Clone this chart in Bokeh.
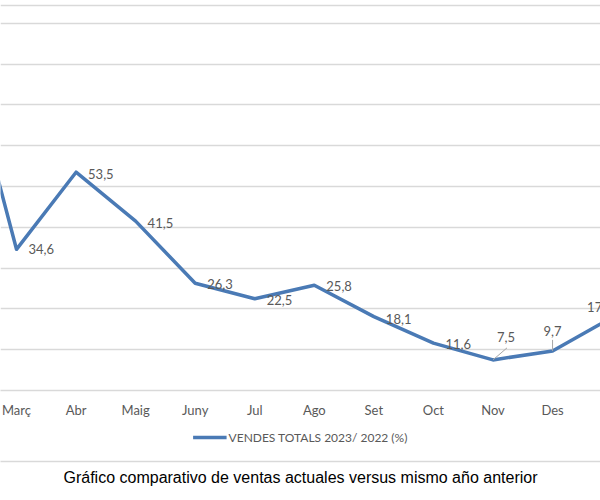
from bokeh.plotting import figure
from bokeh.layouts import column
from bokeh.models import (Range1d, FixedTicker, Legend, LegendItem,
                          ColumnDataSource, Span)
from bokeh.core.properties import value
from bokeh.embed import file_html
from bokeh.resources import INLINE

# ---------------- data ----------------
months = ["Febr", "Març", "Abr", "Maig", "Juny", "Jul", "Ago", "Set", "Oct",
          "Nov", "Des", "Gener"]
sales_pct = [90.0, 34.6, 53.5, 41.5, 26.3, 22.5, 25.8, 18.1, 11.6, 7.5, 9.7, 17.9]
series_name = "VENDES TOTALS 2023/ 2022 (%)"
title_text = "Gráfico comparativo de ventas actuales versus mismo año anterior"
y_grid_ticks = [10, 20, 30, 40, 50, 60, 70, 80, 90]

# ---------------- styling / placement ----------------
LINE_COLOR = "#4a7ab5"
GRID_COLOR = "#d9d9d9"
TEXT_GRAY = "#595959"
FRAME_W = 600
X_START, X_END = 1.7314, 11.805
PX_PER_UNIT_Y = 4.07          # 10 % = 40.7 px
TOP_PAD_PX = 5                # chart border line sits 5 px below the top
CHART_H, FOOT_H = 420, 70

first_label = 1
lab_dx = [12, 12, 12, 12, 12, 12, 12, 12, 12, 13, 0, -25]
lab_dy = [0, 0, 2, 2, 1, 1, 1, 2, 1, -23, -20, -10]
lab_align = ["left"] * 9 + ["center", "center", "left"]
leader_idx = [9, 10]
leader_dx = [14, 0]
leader_dy = [12, 11]

xs = list(range(1, len(months) + 1))
labels = [f"{v:.1f}".replace(".", ",") for v in sales_pct]

px_x = FRAME_W / (X_END - X_START)
Y_BORDER = 384 / PX_PER_UNIT_Y
Y_END = Y_BORDER + TOP_PAD_PX / PX_PER_UNIT_Y

# ================= chart =================
p = figure(width=600, height=CHART_H,
           x_range=Range1d(X_START, X_END), y_range=Range1d(0, Y_END),
           output_backend="svg", toolbar_location=None,
           y_axis_location=None, min_border_left=0, min_border_right=0,
           min_border_top=0, min_border_bottom=0,
           outline_line_color=None, background_fill_color="white",
           border_fill_color="white")

p.xgrid.visible = False
p.ygrid.ticker = FixedTicker(ticks=y_grid_ticks)
p.ygrid.grid_line_color = GRID_COLOR
p.ygrid.grid_line_width = 1.5

xa = p.xaxis[0]
xa.ticker = FixedTicker(ticks=xs)
xa.major_label_overrides = {x: m for x, m in zip(xs, months)}
xa.major_tick_line_color = None
xa.minor_tick_line_color = None
xa.major_tick_out = 0
xa.major_label_standoff = 11
xa.axis_line_color = GRID_COLOR
xa.axis_line_width = 1.5
xa.major_label_text_font = "Lato"
xa.major_label_text_font_size = "13px"
xa.major_label_text_color = TEXT_GRAY

# chart-area border (top)
p.add_layout(Span(location=Y_BORDER, dimension="width", line_color=GRID_COLOR,
                  line_width=1.5))

src = ColumnDataSource(dict(x=xs[first_label:], y=sales_pct[first_label:],
                            label=labels[first_label:], dx=lab_dx[first_label:],
                            dy=lab_dy[first_label:], align=lab_align[first_label:]))
p.line(xs, sales_pct, line_color=LINE_COLOR, line_width=3.5,
       line_join="round", line_cap="round")

lx0 = [xs[i] for i in leader_idx]
ly0 = [sales_pct[i] for i in leader_idx]
lx1 = [xs[i] + d / px_x for i, d in zip(leader_idx, leader_dx)]
ly1 = [sales_pct[i] + d / PX_PER_UNIT_Y for i, d in zip(leader_idx, leader_dy)]
p.segment(lx0, ly0, lx1, ly1, line_color="#a6a6a6", line_width=1)

p.text("x", "y", text="label", source=src, x_offset="dx", y_offset="dy",
       text_align="align", text_baseline="middle",
       text_font=value("Lato"), text_font_size="13px", text_color=TEXT_GRAY)

# ================= footer: legend, border, caption =================
# the footer's y range lies below the series values, so its copy of the
# series only serves as the legend's swatch
f = figure(width=600, height=FOOT_H, x_range=Range1d(X_START, X_END),
           y_range=Range1d(-2, -1), output_backend="svg", toolbar_location=None,
           y_axis_location=None, min_border_left=0, min_border_right=0,
           min_border_top=0, min_border_bottom=0, outline_line_color=None,
           title=title_text, title_location="below",
           background_fill_color="white", border_fill_color="white")
f.grid.visible = False
fx = f.xaxis[0]
fx.ticker = FixedTicker(ticks=xs)
fx.major_label_overrides = {x: "" for x in xs}
fx.major_label_text_font_size = "1px"
fx.major_label_standoff = 0
fx.major_tick_line_color = None
fx.minor_tick_line_color = None
fx.major_tick_out = 0
fx.major_tick_in = 0
fx.axis_line_color = GRID_COLOR
fx.axis_line_width = 1.5

f.title.align = "center"
f.title.text_font = "Liberation Sans"
f.title.text_font_size = "16px"
f.title.text_font_style = "normal"
f.title.text_color = "black"

legend_line = f.line(xs, sales_pct, line_color=LINE_COLOR, line_width=3.5)
legend = Legend(items=[LegendItem(label=series_name, renderers=[legend_line])],
                location="top_center", orientation="horizontal",
                glyph_width=34, glyph_height=20, label_standoff=2,
                padding=5, margin=7, border_line_color=None,
                background_fill_alpha=0,
                label_text_font="Lato", label_text_font_size="12px",
                label_text_color=TEXT_GRAY)
f.add_layout(legend)

open("out.html", "w").write(file_html(column(p, f, spacing=0), INLINE))
